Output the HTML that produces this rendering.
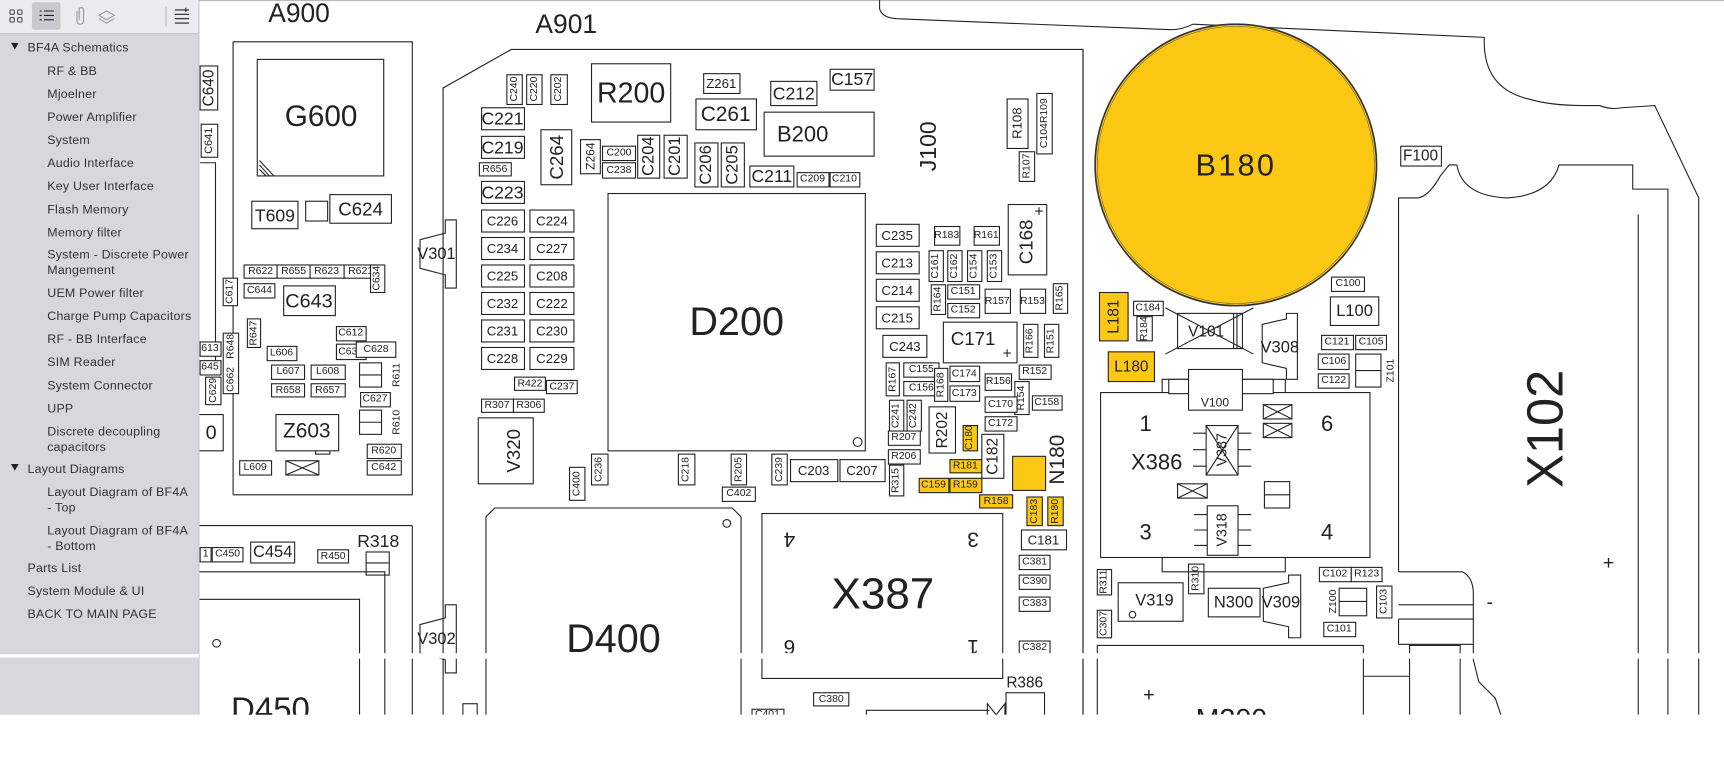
<!DOCTYPE html>
<html><head><meta charset="utf-8"><style>
html,body{margin:0;padding:0;background:#fff;}
svg{display:block}
.b rect,rect.b{fill:#fff;stroke:#222;stroke-width:1}
circle{fill:none;stroke:#222;stroke-width:1}
text{font-family:"Liberation Sans",sans-serif;fill:#222}
.l text{text-anchor:middle;dominant-baseline:central;font-size:12px}
.s text{font-size:9.5px}
.y rect{fill:#fcc814}
.side text{font-size:11.3px;fill:#333;letter-spacing:0.2px}
line,polyline,path{stroke:#222;fill:none;stroke-width:1}
</style></head><body>
<svg width="1724" height="784" viewBox="0 0 1568 713" preserveAspectRatio="none" xmlns="http://www.w3.org/2000/svg">
<rect x="0" y="0" width="1568" height="713" fill="#fff"/>
<line x1="0" y1="0.5" x2="1568" y2="0.5" style="stroke:#bbb"/>

<!-- ============ LEFT partial A900 ============ -->
<g class="b l">
<text x="272" y="12" style="font-size:24px;font-weight:300">A900</text>
<polyline points="212,38 375,38 375,450 212,450"/>
<line x1="212" y1="38" x2="212" y2="450"/>
<rect x="234" y="54" width="115" height="106"/>
<text x="292" y="106" style="font-size:27px">G600</text>
<path d="M236,150 L245,160 M236,154 L242,160 M236,146 L249,160"/>
<rect x="229" y="183" width="42" height="25"/><text x="250" y="196" style="font-size:16px">T609</text>
<rect x="278" y="183" width="20" height="18"/>
<rect x="300" y="177" width="56" height="26"/><text x="328" y="190" style="font-size:17px">C624</text>
<rect x="182" y="60" width="16" height="40"/><text transform="rotate(-90 190 80)" x="190" y="80" style="font-size:14px">C640</text>
<rect x="183" y="113" width="15" height="30"/><text transform="rotate(-90 190 128)" x="190" y="128" style="font-size:10px">C641</text>
<polyline points="182,148 196,148 196,335 182,335"/>
<g class="s">
<rect x="222" y="241" width="30" height="12"/><text x="237" y="247">R622</text>
<rect x="252" y="241" width="30" height="12"/><text x="267" y="247">R655</text>
<rect x="282" y="241" width="31" height="12"/><text x="297" y="247">R623</text>
<rect x="313" y="241" width="30" height="12"/><text x="328" y="247">R621</text>
<rect x="337" y="241" width="13" height="25"/><text transform="rotate(-90 343 253)" x="343" y="253">C634</text>
<rect x="203" y="253" width="13" height="25"/><text transform="rotate(-90 209 265)" x="209" y="265">C617</text>
<rect x="222" y="258" width="28" height="13"/><text x="236" y="264">C644</text>
<rect x="225" y="290" width="12" height="26"/><text transform="rotate(-90 231 303)" x="231" y="303">R647</text>
<rect x="306" y="297" width="27" height="13"/><text x="319" y="303">C612</text>
<rect x="243" y="315" width="27" height="13"/><text x="256" y="321">L606</text>
<rect x="306" y="313" width="27" height="14"/><text x="319" y="320">C631</text>
<rect x="324" y="311" width="36" height="14"/><text x="342" y="318">C628</text>
<rect x="247" y="332" width="30" height="13"/><text x="262" y="338">L607</text>
<rect x="283" y="332" width="31" height="13"/><text x="298" y="338">L608</text>
<rect x="247" y="349" width="30" height="12"/><text x="262" y="355">R658</text>
<rect x="283" y="349" width="31" height="12"/><text x="298" y="355">R657</text>
<rect x="328" y="357" width="27" height="13"/><text x="341" y="363">C627</text>
<text transform="rotate(-90 361 341)" x="361" y="341">R611</text>
<text transform="rotate(-90 361 384)" x="361" y="384">R610</text>
<rect x="182" y="311" width="19" height="13"/><text x="191" y="317">613</text>
<rect x="182" y="328" width="19" height="13"/><text x="191" y="334">645</text>
<rect x="187" y="343" width="14" height="25"/><text transform="rotate(-90 194 355)" x="194" y="355">C629</text>
<rect x="203" y="303" width="14" height="55"/><text transform="rotate(-90 210 345)" x="210" y="345">C662</text><text transform="rotate(-90 210 315)" x="210" y="315">R648</text>
<rect x="287" y="385" width="13" height="28"/><text transform="rotate(-90 293 399)" x="293" y="399">R637</text>
<rect x="334" y="404" width="31" height="13"/><text x="349" y="410">R620</text>
<rect x="334" y="419" width="31" height="13"/><text x="349" y="425">C642</text>
<rect x="218" y="419" width="29" height="13"/><text x="232" y="425">L609</text>
</g>
<rect x="327" y="330" width="20" height="22"/><line x1="327" y1="341" x2="347" y2="341"/>
<rect x="327" y="373" width="20" height="22"/><line x1="327" y1="384" x2="347" y2="384"/>
<rect x="258" y="260" width="47" height="27"/><text x="281" y="274" style="font-size:18px">C643</text>
<rect x="251" y="377" width="57" height="33"/><text x="279" y="392" style="font-size:19px">Z603</text>
<polyline points="181,377 203,377 203,410 181,410"/><text x="192" y="394" style="font-size:18px">0</text>
<rect x="260" y="419" width="30" height="13"/><path d="M260,419 L290,432 M290,419 L260,432"/>
<line x1="181" y1="478" x2="375" y2="478"/>
<line x1="375" y1="478" x2="375" y2="650"/>
<g class="s">
<rect x="182" y="498" width="10" height="13"/><text x="187" y="504">1</text>
<rect x="193" y="498" width="28" height="13"/><text x="207" y="504">C450</text>
<rect x="289" y="500" width="28" height="12"/><text x="303" y="506">R450</text>
</g>
<rect x="228" y="493" width="40" height="19"/><text x="248" y="502" style="font-size:15px">C454</text>
<text x="344" y="492" style="font-size:16px">R318</text>
<rect x="333" y="502" width="21" height="21"/><line x1="333" y1="512" x2="354" y2="512"/>
<polyline points="181,520 350,520 350,650"/>
<polyline points="181,545 327,545 327,650"/>
<circle cx="197" cy="585" r="3.5"/>
<text x="246" y="645" style="font-size:30px">D450</text>
</g>

<!-- ============ A901 ============ -->
<g class="b l">
<text x="515" y="22" style="font-size:24px">A901</text>
<polyline points="403,650 403,80 465,45 985,45 985,650"/>
<path d="M415,200 L415,262 L405,262 L405,250 L382,244 L382,218 L405,212 L405,200 Z"/><text x="397" y="231" style="font-size:15px">V301</text>
<path d="M415,550 L415,612 L405,612 L405,600 L382,594 L382,568 L405,562 L405,550 Z"/><text x="397" y="581" style="font-size:15px">V302</text>
<g class="s">
<rect x="461" y="68" width="14" height="27"/><text transform="rotate(-90 468 81)" x="468" y="81">C240</text>
<rect x="479" y="68" width="14" height="27"/><text transform="rotate(-90 486 81)" x="486" y="81">C220</text>
<rect x="501" y="68" width="15" height="27"/><text transform="rotate(-90 508 81)" x="508" y="81">C202</text>
<rect x="640" y="67" width="33" height="18"/><text x="656" y="76" style="font-size:12px">Z261</text>
<rect x="436" y="148" width="29" height="12"/><text x="450" y="154">R656</text>
<rect x="528" y="127" width="18" height="31"/><text transform="rotate(-90 537 142)" x="537" y="142" style="font-size:11px">Z264</text>
<rect x="548" y="133" width="30" height="13"/><text x="563" y="139">C200</text>
<rect x="548" y="148" width="30" height="14"/><text x="563" y="155">C238</text>
<rect x="725" y="157" width="29" height="13"/><text x="739" y="163">C209</text>
<rect x="755" y="157" width="27" height="13"/><text x="768" y="163">C210</text>
<rect x="916" y="90" width="19" height="45"/><text transform="rotate(-90 925 112)" x="925" y="112" style="font-size:12px">R108</text>
<rect x="943" y="85" width="14" height="55"/><text transform="rotate(-90 950 112)" x="950" y="112">C104R109</text>
<rect x="927" y="138" width="14" height="27"/><text transform="rotate(-90 934 151)" x="934" y="151">R107</text>
<rect x="468" y="343" width="28" height="12"/><text x="482" y="349">R422</text>
<rect x="497" y="346" width="28" height="12"/><text x="511" y="352">C237</text>
<rect x="438" y="363" width="29" height="12"/><text x="452" y="369">R307</text>
<rect x="467" y="363" width="28" height="12"/><text x="481" y="369">R306</text>
<rect x="538" y="413" width="15" height="28"/><text transform="rotate(-90 545 427)" x="545" y="427">C236</text>
<rect x="518" y="425" width="14" height="30"/><text transform="rotate(-90 525 440)" x="525" y="440">C400</text>
<rect x="617" y="413" width="15" height="28"/><text transform="rotate(-90 624 427)" x="624" y="427">C218</text>
<rect x="665" y="413" width="14" height="28"/><text transform="rotate(-90 672 427)" x="672" y="427">R205</text>
<rect x="657" y="443" width="30" height="13"/><text x="672" y="449">C402</text>
<rect x="702" y="413" width="14" height="28"/><text transform="rotate(-90 709 427)" x="709" y="427">C239</text>
<rect x="850" y="206" width="23" height="17"/><text x="861" y="214">R183</text>
<rect x="886" y="206" width="23" height="17"/><text x="897" y="214">R161</text>
<rect x="845" y="228" width="13" height="28"/><text transform="rotate(-90 851 242)" x="851" y="242">C161</text>
<rect x="862" y="228" width="13" height="28"/><text transform="rotate(-90 868 242)" x="868" y="242">C162</text>
<rect x="880" y="228" width="13" height="28"/><text transform="rotate(-90 886 242)" x="886" y="242">C154</text>
<rect x="898" y="228" width="13" height="28"/><text transform="rotate(-90 904 242)" x="904" y="242">C153</text>
<rect x="847" y="259" width="13" height="27"/><text transform="rotate(-90 853 272)" x="853" y="272">R164</text>
<rect x="862" y="259" width="29" height="13"/><text x="876" y="265">C151</text>
<rect x="862" y="276" width="29" height="13"/><text x="876" y="282">C152</text>
<rect x="896" y="263" width="23" height="22"/><text x="907" y="274">R157</text>
<rect x="928" y="263" width="23" height="22"/><text x="939" y="274">R153</text>
<rect x="958" y="258" width="13" height="27"/><text transform="rotate(-90 964 271)" x="964" y="271">R165</text>
<rect x="931" y="295" width="13" height="30"/><text transform="rotate(-90 937 310)" x="937" y="310">R166</text>
<rect x="950" y="295" width="13" height="30"/><text transform="rotate(-90 956 310)" x="956" y="310">R151</text>
<rect x="927" y="332" width="29" height="13"/><text x="941" y="338">R152</text>
<rect x="806" y="330" width="12" height="30"/><text transform="rotate(-90 812 345)" x="812" y="345">R167</text>
<rect x="822" y="330" width="32" height="13"/><text x="838" y="336">C155</text>
<rect x="822" y="347" width="32" height="13"/><text x="838" y="353">C156</text>
<rect x="850" y="335" width="12" height="30"/><text transform="rotate(-90 856 350)" x="856" y="350">R168</text>
<rect x="864" y="333" width="27" height="14"/><text x="877" y="340">C174</text>
<rect x="864" y="351" width="27" height="14"/><text x="877" y="358">C173</text>
<rect x="896" y="340" width="24" height="15"/><text x="908" y="347">R156</text>
<rect x="923" y="347" width="13" height="30"/><text transform="rotate(-90 929 362)" x="929" y="362">R154</text>
<rect x="939" y="360" width="27" height="13"/><text x="952" y="366">C158</text>
<rect x="809" y="364" width="13" height="28"/><text transform="rotate(-90 815 378)" x="815" y="378">C241</text>
<rect x="825" y="364" width="13" height="28"/><text transform="rotate(-90 831 378)" x="831" y="378">C242</text>
<rect x="896" y="361" width="29" height="14"/><text x="910" y="368">C170</text>
<rect x="896" y="379" width="29" height="13"/><text x="910" y="385">C172</text>
<rect x="808" y="392" width="29" height="13"/><text x="822" y="398">R207</text>
<rect x="808" y="409" width="29" height="13"/><text x="822" y="415">R206</text>
<rect x="809" y="423" width="13" height="28"/><text transform="rotate(-90 815 437)" x="815" y="437">R315</text>
<g class="y">
<rect x="876" y="387" width="13" height="23"/><text transform="rotate(-90 882 398)" x="882" y="398">C180</text>
<rect x="864" y="418" width="29" height="12"/><text x="878" y="424">R181</text>
<rect x="836" y="435" width="27" height="13"/><text x="849" y="441">C159</text>
<rect x="864" y="435" width="29" height="13"/><text x="878" y="441">R159</text>
<rect x="891" y="450" width="30" height="12"/><text x="906" y="456">R158</text>
<rect x="934" y="452" width="14" height="26"/><text transform="rotate(-90 941 465)" x="941" y="465">C183</text>
<rect x="953" y="452" width="14" height="26"/><text transform="rotate(-90 960 465)" x="960" y="465">R180</text>
<rect x="921" y="415" width="30" height="31"/>
</g>
<rect x="927" y="505" width="28" height="13"/><text x="941" y="511">C381</text>
<rect x="927" y="523" width="28" height="13"/><text x="941" y="529">C390</text>
<rect x="927" y="543" width="28" height="13"/><text x="941" y="549">C383</text>
<rect x="927" y="583" width="28" height="13"/><text x="941" y="589">C382</text>
<rect x="740" y="630" width="32" height="12"/><text x="756" y="636">C380</text>
<rect x="684" y="645" width="29" height="10"/><text x="698" y="650">C401</text>
<rect x="421" y="640" width="13" height="20"/>
</g>
<rect x="538" y="58" width="72" height="53"/><text x="574" y="85" style="font-size:26px">R200</text>
<rect x="633" y="90" width="55" height="28"/><text x="660" y="104" style="font-size:19px">C261</text>
<rect x="701" y="74" width="42" height="22"/><text x="722" y="85" style="font-size:16px">C212</text>
<rect x="755" y="63" width="40" height="19"/><text x="775" y="72" style="font-size:16px">C157</text>
<rect x="695" y="102" width="100" height="40"/><text x="730" y="122" style="font-size:20px">B200</text>
<text transform="rotate(-90 844 133)" x="844" y="133" style="font-size:21px">J100</text>
<rect x="438" y="98" width="39" height="20"/><text x="457" y="108" style="font-size:16px">C221</text>
<rect x="438" y="124" width="39" height="20"/><text x="457" y="134" style="font-size:16px">C219</text>
<rect x="438" y="165" width="39" height="20"/><text x="457" y="175" style="font-size:16px">C223</text>
<rect x="492" y="118" width="28" height="50"/><text transform="rotate(-90 506 143)" x="506" y="143" style="font-size:17px">C264</text>
<rect x="580" y="123" width="20" height="39"/><text transform="rotate(-90 590 142)" x="590" y="142" style="font-size:15px">C204</text>
<rect x="604" y="123" width="21" height="39"/><text transform="rotate(-90 614 142)" x="614" y="142" style="font-size:15px">C201</text>
<rect x="632" y="130" width="21" height="40"/><text transform="rotate(-90 642 150)" x="642" y="150" style="font-size:15px">C206</text>
<rect x="656" y="130" width="21" height="40"/><text transform="rotate(-90 666 150)" x="666" y="150" style="font-size:15px">C205</text>
<rect x="682" y="151" width="40" height="19"/><text x="702" y="160" style="font-size:16px">C211</text>
<rect x="553" y="176" width="234" height="234"/><text x="670" y="293" style="font-size:36px">D200</text><circle cx="780" cy="402" r="4"/>
<g style="font-size:16px">
<rect x="438" y="191" width="39" height="20"/><text x="457" y="201">C226</text><rect x="482" y="191" width="40" height="20"/><text x="502" y="201">C224</text>
<rect x="438" y="216" width="39" height="20"/><text x="457" y="226">C234</text><rect x="482" y="216" width="40" height="20"/><text x="502" y="226">C227</text>
<rect x="438" y="241" width="39" height="20"/><text x="457" y="251">C225</text><rect x="482" y="241" width="40" height="20"/><text x="502" y="251">C208</text>
<rect x="438" y="266" width="39" height="20"/><text x="457" y="276">C232</text><rect x="482" y="266" width="40" height="20"/><text x="502" y="276">C222</text>
<rect x="438" y="291" width="39" height="20"/><text x="457" y="301">C231</text><rect x="482" y="291" width="40" height="20"/><text x="502" y="301">C230</text>
<rect x="438" y="316" width="39" height="20"/><text x="457" y="326">C228</text><rect x="482" y="316" width="40" height="20"/><text x="502" y="326">C229</text>
<rect x="797" y="204" width="39" height="20"/><text x="816" y="214">C235</text>
<rect x="797" y="229" width="39" height="20"/><text x="816" y="239">C213</text>
<rect x="797" y="254" width="39" height="20"/><text x="816" y="264">C214</text>
<rect x="797" y="279" width="39" height="20"/><text x="816" y="289">C215</text>
<rect x="803" y="305" width="40" height="20"/><text x="823" y="315">C243</text>
<rect x="719" y="418" width="43" height="20"/><text x="740" y="428">C203</text>
<rect x="764" y="418" width="41" height="20"/><text x="784" y="428">C207</text>
<rect x="929" y="482" width="41" height="18"/><text x="949" y="491">C181</text>
</g>
<rect x="435" y="380" width="50" height="60"/><text transform="rotate(-90 467 410)" x="467" y="410" style="font-size:17px">V320</text>
<rect x="917" y="186" width="35" height="64"/><text transform="rotate(-90 933 220)" x="933" y="220" style="font-size:17px">C168</text><text x="945" y="193" style="font-size:14px">+</text>
<rect x="858" y="293" width="67" height="37"/><text x="885" y="308" style="font-size:17px">C171</text><text x="916" y="322" style="font-size:14px">+</text>
<rect x="845" y="370" width="24" height="42"/><text transform="rotate(-90 857 391)" x="857" y="391" style="font-size:14px">R202</text>
<rect x="893" y="395" width="20" height="40"/><text transform="rotate(-90 903 415)" x="903" y="415" style="font-size:14px">C182</text>
<text transform="rotate(-90 962 418)" x="962" y="418" style="font-size:19px">N180</text>
<path d="M442,470 L450,462 L666,462 L674,470 L674,650 M442,470 L442,650"/>
<circle cx="661" cy="476" r="3.5"/>
<text x="558" y="581" style="font-size:36px">D400</text>
<rect x="693" y="467" width="219" height="150"/>
<text x="803" y="540" style="font-size:40px">X387</text>
<text transform="rotate(180 718 490)" x="718" y="490" style="font-size:19px">4</text>
<text transform="rotate(180 885 490)" x="885" y="490" style="font-size:19px">3</text>
<text transform="rotate(180 718 588)" x="718" y="588" style="font-size:19px">6</text>
<text transform="rotate(180 885 588)" x="885" y="588" style="font-size:19px">1</text>
<text x="932" y="621" style="font-size:14px">R386</text>
<rect x="915" y="630" width="35" height="25"/>
<path d="M898,655 L898,640 L906,650 L914,640 L914,655"/>
<path d="M788,655 L788,646 L900,646"/>
</g>

<!-- ============ RIGHT region ============ -->
<g class="b l">
<path d="M800,0 L800,8 Q802,16 815,17 L1065,27 Q1075,27 1085,22 L1350,34 Q1348,80 1390,90 Q1410,96 1440,96 L1455,96 Q1465,100 1475,98 L1505,96 L1545,180 L1545,650"/>
<circle cx="1124" cy="150" r="128" style="fill:#fcc814;stroke:#333;stroke-width:1.5"/>
<circle cx="1124" cy="150" r="126" style="fill:none;stroke:#555;stroke-width:0.5"/>
<text x="1124" y="150" style="font-size:28px;letter-spacing:2px">B180</text>
<rect x="1274" y="133" width="37" height="18"/><text x="1292" y="142" style="font-size:14px">F100</text>
<path d="M1272,520 L1272,180 L1290,180 Q1300,178 1310,160 L1318,150 L1325,150 Q1330,178 1370,180 Q1410,178 1418,150 L1485,150 L1485,172 L1517,172 L1517,650"/>
<path d="M1490,195 L1490,650"/>
<text transform="rotate(-90 1405 390)" x="1405" y="390" style="font-size:46px">X102</text>
<text x="1463" y="512" style="font-size:18px">+</text>
<text x="1355" y="548" style="font-size:18px">-</text>
<path d="M1272,520 L1330,520 Q1340,525 1340,540 L1340,600 M1272,550 L1340,550 M1272,563 L1340,563 M1272,586 L1340,586 M1272,563 L1272,586 M1340,600 L1345,620 L1360,635 L1365,650"/>
<path d="M1282,650 L1282,587 L1328,587 L1328,650 M1240,615 L1282,615"/>
<g class="y">
<rect x="1000" y="266" width="26" height="44"/><text transform="rotate(-90 1013 288)" x="1013" y="288" style="font-size:14px">L181</text>
<rect x="1008" y="320" width="42" height="27"/><text x="1029" y="334" style="font-size:14px">L180</text>
</g>
<g class="s">
<rect x="1031" y="274" width="27" height="13"/><text x="1044" y="280">C184</text>
<rect x="1034" y="288" width="14" height="22"/><text transform="rotate(-90 1041 299)" x="1041" y="299">R184</text>
<rect x="1211" y="252" width="30" height="13"/><text x="1226" y="258">C100</text>
<rect x="1202" y="305" width="29" height="13"/><text x="1216" y="311">C121</text>
<rect x="1233" y="305" width="28" height="13"/><text x="1247" y="311">C105</text>
<rect x="1199" y="322" width="28" height="14"/><text x="1213" y="329">C106</text>
<rect x="1199" y="340" width="28" height="13"/><text x="1213" y="346">C122</text>
<text transform="rotate(-90 1265 337)" x="1265" y="337">Z101</text>
<rect x="1149" y="403" width="26" height="13"/><text x="1162" y="409">C107</text>
<rect x="1149" y="420" width="26" height="14"/><text x="1162" y="427">C123</text>
<rect x="1098" y="440" width="27" height="13"/><text x="1111" y="446">C308</text>
<text transform="rotate(-90 1182 450)" x="1182" y="450">Z102</text>
<rect x="1149" y="469" width="26" height="14"/><text x="1162" y="476">C124</text>
<rect x="1149" y="488" width="26" height="13"/><text x="1162" y="494">C108</text>
<rect x="998" y="518" width="13" height="23"/><text transform="rotate(-90 1004 529)" x="1004" y="529">R311</text>
<rect x="998" y="555" width="13" height="25"/><text transform="rotate(-90 1004 567)" x="1004" y="567">C307</text>
<rect x="1081" y="513" width="14" height="27"/><text transform="rotate(-90 1088 526)" x="1088" y="526">R310</text>
<rect x="1200" y="516" width="29" height="13"/><text x="1214" y="522">C102</text>
<rect x="1229" y="516" width="28" height="13"/><text x="1243" y="522">R123</text>
<rect x="1252" y="533" width="14" height="29"/><text transform="rotate(-90 1259 547)" x="1259" y="547">C103</text>
<rect x="1204" y="566" width="29" height="13"/><text x="1218" y="572">C101</text>
<text transform="rotate(-90 1213 547)" x="1213" y="547">Z100</text>
</g>
<rect x="1071" y="285" width="59" height="32"/><path d="M1060,280 L1140,322 M1140,280 L1060,322 M1122,285 L1122,317 M1125,285 L1125,317"/><text x="1097" y="302" style="font-size:14px">V101</text>
<path d="M1170,285 L1180,285 L1180,345 L1170,345 L1170,335 L1148,330 L1148,295 L1170,290 Z"/><text x="1164" y="316" style="font-size:15px">V308</text>
<rect x="1210" y="270" width="44" height="26"/><text x="1232" y="283" style="font-size:15px">L100</text>
<rect x="1233" y="322" width="23" height="30"/><line x1="1233" y1="337" x2="1256" y2="337"/>
<polyline points="1057,357 1057,345 1169,345 1169,357"/>
<rect x="1001" y="357" width="245" height="150"/>
<rect x="1063" y="345" width="95" height="13"/>
<rect x="1081" y="336" width="49" height="37"/><text x="1105" y="366" style="font-size:11px">V100</text>
<text x="1042" y="385" style="font-size:20px">1</text>
<text x="1207" y="385" style="font-size:20px">6</text>
<text x="1042" y="484" style="font-size:20px">3</text>
<text x="1207" y="484" style="font-size:20px">4</text>
<text x="1052" y="420" style="font-size:20px">X386</text>
<path d="M1085,394 L1097,394 M1085,409 L1097,409 M1085,424 L1097,424 M1126,394 L1138,394 M1126,409 L1138,409 M1126,424 L1138,424"/>
<rect x="1097" y="387" width="29" height="45"/><path d="M1097,387 L1126,432 M1126,387 L1097,432"/><text transform="rotate(-90 1112 409)" x="1112" y="409" style="font-size:13px">V387</text>
<rect x="1149" y="368" width="26" height="13"/><path d="M1149,368 L1175,381 M1175,368 L1149,381"/>
<rect x="1149" y="385" width="26" height="13"/><path d="M1149,385 L1175,398 M1175,385 L1149,398"/>
<rect x="1071" y="440" width="27" height="13"/><path d="M1071,440 L1098,453 M1098,440 L1071,453"/>
<rect x="1150" y="438" width="23" height="24"/><line x1="1150" y1="450" x2="1173" y2="450"/>
<path d="M1086,468 L1098,468 M1086,482 L1098,482 M1086,496 L1098,496 M1126,468 L1138,468 M1126,482 L1138,482 M1126,496 L1138,496"/>
<rect x="1098" y="460" width="28" height="45"/><text transform="rotate(-90 1112 482)" x="1112" y="482" style="font-size:13px">V318</text>
<polyline points="1057,507 1057,520 1169,520 1169,507"/>
<rect x="1017" y="530" width="59" height="35"/><text x="1050" y="546" style="font-size:15px">V319</text><circle cx="1030" cy="559" r="3"/>
<rect x="1099" y="535" width="47" height="26"/><text x="1122" y="548" style="font-size:15px">N300</text>
<path d="M1172,523 L1183,523 L1183,580 L1172,580 L1172,570 L1149,565 L1149,535 L1172,530 Z"/><text x="1165" y="548" style="font-size:15px">V309</text>
<rect x="1218" y="535" width="25" height="25"/><line x1="1218" y1="547" x2="1243" y2="547"/>
<polyline points="998,650 998,587 1240,587 1240,650"/>
<text x="1045" y="632" style="font-size:18px">+</text>
<text x="1120" y="655" style="font-size:26px">M300</text>
<line x1="985" y1="45" x2="985" y2="650"/>
</g>

<!-- white gap band -->
<rect x="181" y="594" width="1387" height="5" fill="#fff"/>
<rect x="0" y="650" width="1568" height="63" fill="#fff"/>

<!-- ============ SIDEBAR ============ -->
<rect x="0" y="0" width="181" height="650" fill="#d7d7dd"/>
<rect x="0" y="0" width="181" height="30" fill="#ececef"/>
<line x1="0" y1="30.5" x2="181" y2="30.5" style="stroke:#c4c4c8"/>
<line x1="181" y1="0" x2="181" y2="650" style="stroke:#c8c8cc"/>
<rect x="29" y="2" width="26" height="25" fill="#c9c9cf" rx="2"/>
<g style="stroke:#666;fill:none;stroke-width:1.2">
<rect x="9" y="9" width="4" height="4" rx="1"/><rect x="16" y="9" width="4" height="4" rx="1"/><rect x="9" y="16" width="4" height="4" rx="1"/><rect x="16" y="16" width="4" height="4" rx="1"/>
<path d="M36,10 L38,10 M40,10 L49,10 M36,14 L38,14 M40,14 L49,14 M36,18 L38,18 M40,18 L49,18"/>
<path d="M70,10 L70,19 Q70,22 73,22 Q76,22 76,19 L76,9 Q76,7 74,7 Q72,7 72,9 L72,18" style="stroke:#999"/>
<path d="M90,14 L97,10 L104,14 L97,18 Z M90,17 L97,21 L104,17" style="stroke:#999"/>
<line x1="151" y1="6" x2="151" y2="24" style="stroke:#bbb"/>
<path d="M159,9 L167,9 M159,13 L172,13 M159,17 L172,17 M159,21 L172,21 M169,7 L169,11 M167,9 L172,9"/>
</g>
<g class="side">
<path d="M10,39 L17,39 L13.5,45 Z" style="fill:#222;stroke:none"/>
<text x="25" y="47">BF4A Schematics</text>
<text x="43" y="68">RF &amp; BB</text>
<text x="43" y="89">Mjoelner</text>
<text x="43" y="110">Power Amplifier</text>
<text x="43" y="131">System</text>
<text x="43" y="152">Audio Interface</text>
<text x="43" y="173">Key User Interface</text>
<text x="43" y="194">Flash Memory</text>
<text x="43" y="215">Memory filter</text>
<text x="43" y="235">System - Discrete Power</text>
<text x="43" y="249">Mangement</text>
<text x="43" y="270">UEM Power filter</text>
<text x="43" y="291">Charge Pump Capacitors</text>
<text x="43" y="312">RF - BB Interface</text>
<text x="43" y="333">SIM Reader</text>
<text x="43" y="354">System Connector</text>
<text x="43" y="375">UPP</text>
<text x="43" y="396">Discrete decoupling</text>
<text x="43" y="410">capacitors</text>
<path d="M10,422 L17,422 L13.5,428 Z" style="fill:#222;stroke:none"/>
<text x="25" y="430">Layout Diagrams</text>
<text x="43" y="451">Layout Diagram of BF4A</text>
<text x="43" y="465">- Top</text>
<text x="43" y="486">Layout Diagram of BF4A</text>
<text x="43" y="500">- Bottom</text>
<text x="25" y="520">Parts List</text>
<text x="25" y="541">System Module &amp; UI</text>
<text x="25" y="562">BACK TO MAIN PAGE</text>
</g>
<rect x="0" y="595" width="181" height="3" fill="#fff"/>
</svg>
</body></html>
